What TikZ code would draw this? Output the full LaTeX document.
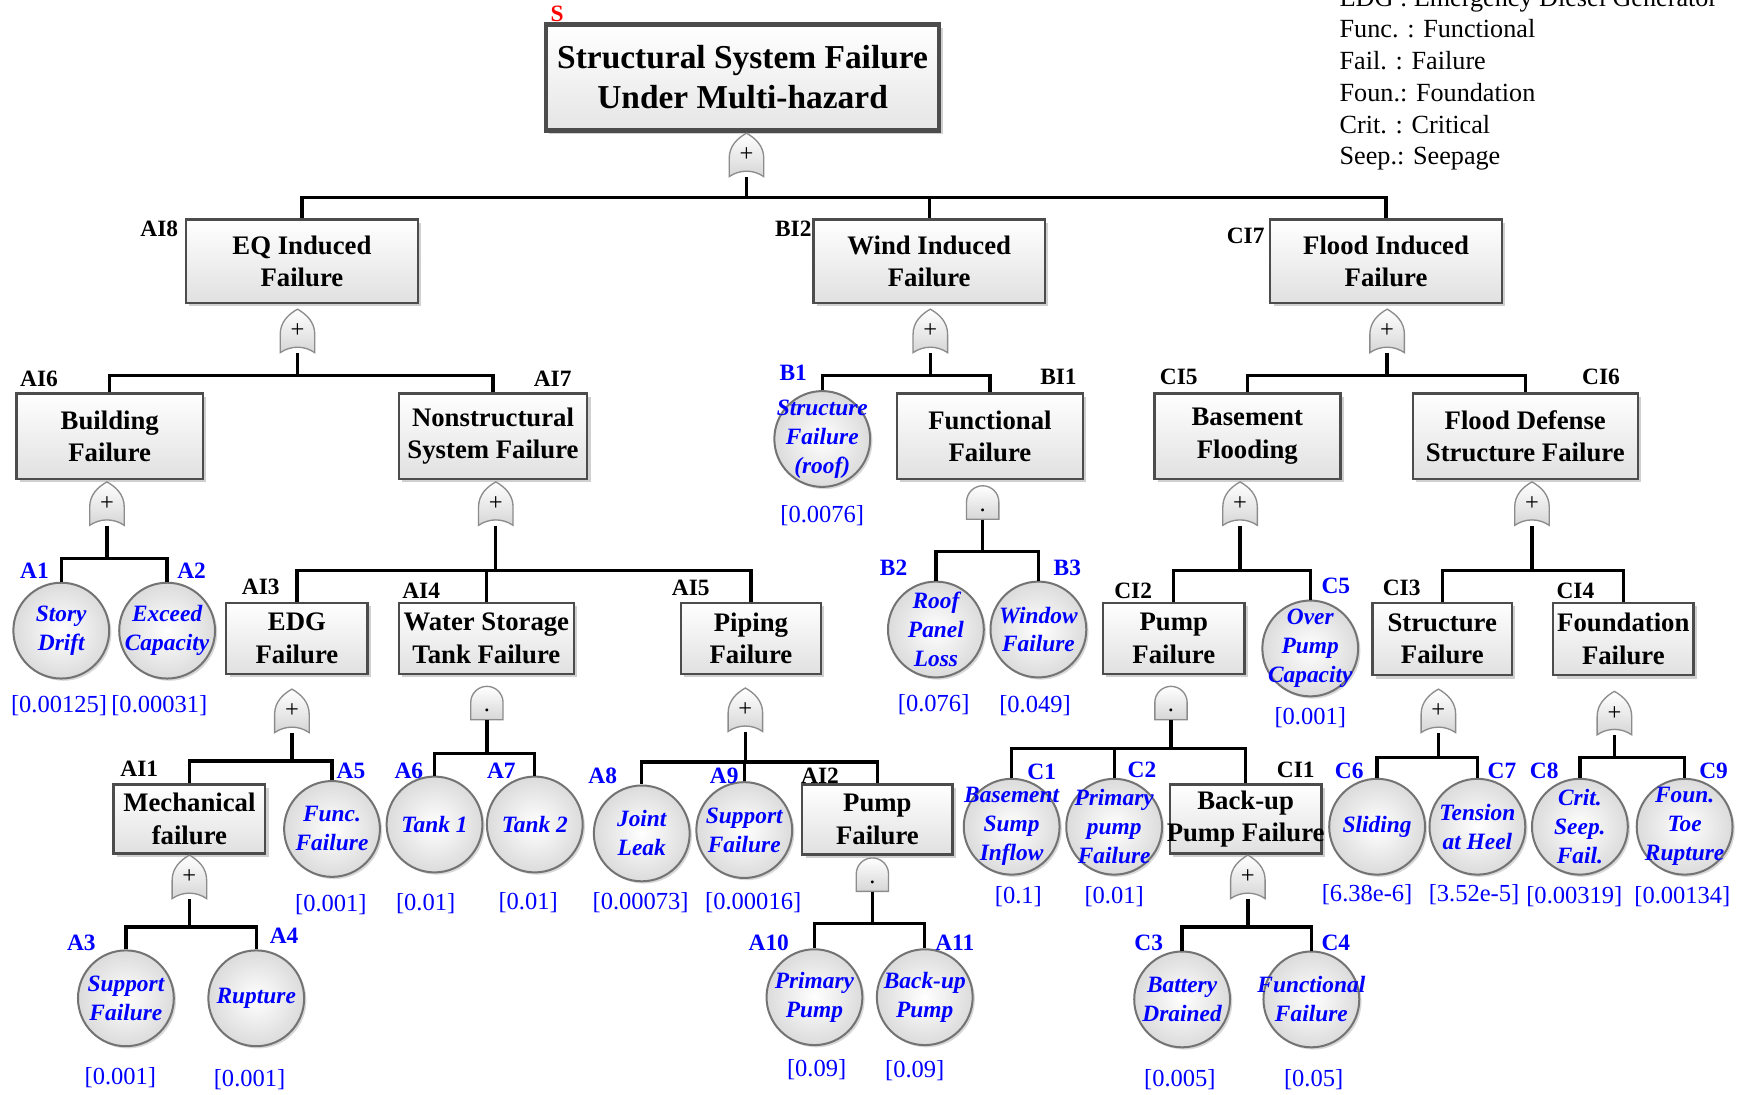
\documentclass[tikz,border=0pt]{standalone}
\usepackage{fontspec}
\setmainfont{Liberation Serif}
\usetikzlibrary{shadows}

\definecolor{evblue}{RGB}{0,0,255}
\definecolor{evred}{RGB}{255,0,0}

% fonts
\newcommand\titlefont{\fontsize{15}{18}\selectfont\bfseries}
\newcommand\boxfont{\fontsize{12}{14.5}\selectfont\bfseries}
\newcommand\evfont{\fontsize{10.5}{13}\selectfont\bfseries\itshape}
\newcommand\labfont{\fontsize{10.5}{12}\selectfont\bfseries}
\newcommand\probfont{\fontsize{11}{13}\selectfont}
\newcommand\legfont{\fontsize{11.75}{14.25}\selectfont}

\tikzset{
  conn/.style={line width=1.5pt, black},
  shade box/.style={drop shadow={shadow xshift=1.5pt, shadow yshift=-1.5pt, opacity=0.3, fill=black!60}},
  topbox/.style={rectangle, draw=black!70, line width=2pt, top color=white, bottom color=black!10,
    inner sep=0pt, inner xsep=-30pt, align=center, font=\titlefont, shade box},
  evbox/.style={rectangle, draw=black!70, line width=1.1pt, top color=white, bottom color=black!12,
    inner sep=0pt, inner xsep=-30pt, align=center, font=\boxfont, shade box},
  event/.style={circle, draw=black!55, line width=0.9pt, inner color=white, outer color=black!14,
    minimum size=43pt, inner sep=-20pt, align=center, font=\evfont, text=evblue,
    drop shadow={shadow xshift=1pt, shadow yshift=-1pt, opacity=0.25, fill=black!60}},
  ilab/.style={inner sep=0pt, font=\labfont, text=black},
  elab/.style={inner sep=0pt, font=\labfont, text=evblue},
  prob/.style={inner sep=0pt, font=\probfont, text=evblue},
  legline/.style={inner sep=0pt, font=\legfont, anchor=base west},
  gatebody/.style={draw=black!45, line width=0.6pt, top color=white, bottom color=black!16},
  ornode/.style={inner sep=0pt, minimum width=15.5pt, minimum height=19.5pt, font=\fontsize{11}{11}\selectfont},
  andnode/.style={inner sep=0pt, minimum width=14.5pt, minimum height=15pt, text height=8pt, text depth=0pt,
    font=\fontsize{11}{11}\selectfont},
}

% OR gate: pointed arch with concave base
\newcommand\orgate[2]{%
  \begin{scope}[shift={(#2)}]
    \path[gatebody] (-15.5,19.5) -- (-15.5,3)
      .. controls (-15.5,-8) and (-8,-15) .. (0,-19.5)
      .. controls (8,-15) and (15.5,-8) .. (15.5,3)
      -- (15.5,19.5) .. controls (6,13) and (-6,13) .. (-15.5,19.5) -- cycle;
  \end{scope}
  \node[ornode] (#1) at (#2) {+};}

% AND gate: round top, flat base
\newcommand\andgate[2]{%
  \begin{scope}[shift={(#2)}]
    \path[gatebody] (-14.5,15) -- (-14.5,-0.5)
      .. controls (-14.5,-8.5) and (-8,-15) .. (0,-15)
      .. controls (8,-15) and (14.5,-8.5) .. (14.5,-0.5)
      -- (14.5,15) -- cycle;
  \end{scope}
  \node[andnode] (#1) at (#2) {.};}

% gate output split into a bar at height #2 feeding the listed inputs
\newcommand\branch[3]{%
  \foreach \kid in {#3} {\draw[conn] (#1.south) |- (\kid.north |- 0,#2) -- (\kid.north);}}

\begin{document}
\begin{tikzpicture}[x=0.5pt,y=-0.5pt]
\fill[white] (0,0) rectangle (1568,982);
\useasboundingbox (0,0) rectangle (1568,982);

% legend
\node[legline] (leg1) at (1202,5.5) {EDG : Emergency Diesel Generator};
\node[legline] (leg2) at (1202,34) {Func. : Functional};
\node[legline] (leg3) at (1202,62.5) {Fail. : Failure};
\node[legline] (leg4) at (1202,91) {Foun.: Foundation};
\node[legline] (leg5) at (1202,119.5) {Crit. : Critical};
\node[legline] (leg6) at (1202,148) {Seep.: Seepage};

% top event
\node[topbox, minimum width=176.5pt, minimum height=47.5pt] (S) at (666.5,69.5) {Structural System Failure\\Under Multi-hazard};
\node[ilab, text=evred] (Slab) at (500,12) {S};
\orgate{g0}{670,139}

% hazard level
\node[evbox, minimum width=104pt, minimum height=37.5pt] (AI8) at (271,234.5) {EQ Induced\\Failure};
\node[evbox, minimum width=104pt, minimum height=37.5pt] (BI2) at (834,234.5) {Wind Induced\\Failure};
\node[evbox, minimum width=104pt, minimum height=37.5pt] (CI7) at (1244,234.5) {Flood Induced\\Failure};
\node[ilab] (lAI8) at (143,205) {AI8};
\node[ilab] (lBI2) at (712,205) {BI2};
\node[ilab] (lCI7) at (1118,212) {CI7};
\orgate{gAI8}{267,297}
\orgate{gBI2}{835,297}
\orgate{gCI7}{1245,297}

% third level
\node[evbox, minimum width=83.5pt, minimum height=38.5pt] (AI6) at (98.5,391.5) {Building\\Failure};
\node[evbox, minimum width=84.5pt, minimum height=38.5pt] (AI7) at (442.5,391.5) {Nonstructural\\System Failure};
\node[event] (B1) at (738,394) {Structure\\Failure\\(roof)};
\node[evbox, minimum width=83.5pt, minimum height=38.5pt] (BI1) at (888.5,391.5) {Functional\\Failure};
\node[evbox, minimum width=83.5pt, minimum height=38.5pt] (CI5) at (1119.5,391.5) {Basement\\Flooding};
\node[evbox, minimum width=101pt, minimum height=38.5pt] (CI6) at (1369,391.5) {Flood Defense\\Structure Failure};
\node[ilab] (lAI6) at (35,340) {AI6};
\node[ilab] (lAI7) at (496,340) {AI7};
\node[elab] (lB1) at (712,335) {B1};
\node[ilab] (lBI1) at (950,338) {BI1};
\node[ilab] (lCI5) at (1058,338) {CI5};
\node[ilab] (lCI6) at (1437,338) {CI6};
\node[prob] (pB1) at (738,463) {[0.0076]};
\orgate{gAI6}{96,452}
\orgate{gAI7}{445,452}
\andgate{gBI1}{882,451}
\orgate{gCI5}{1113,452}
\orgate{gCI6}{1375,452}

% fourth level
\node[event] (A1) at (55,566) {Story\\Drift};
\node[event] (A2) at (150,566) {Exceed\\Capacity};
\node[elab] (lA1) at (31,512) {A1};
\node[elab] (lA2) at (172,512) {A2};
\node[prob] (pA1) at (53,633) {[0.00125]};
\node[prob] (pA2) at (143,633) {[0.00031]};

\node[evbox, minimum width=63.5pt, minimum height=32pt] (AI3) at (266.5,573) {EDG\\Failure};
\node[evbox, minimum width=78.5pt, minimum height=32pt] (AI4) at (436.5,573) {Water Storage\\Tank Failure};
\node[evbox, minimum width=63pt, minimum height=32pt] (AI5) at (674,573) {Piping\\Failure};
\node[ilab] (lAI3) at (234,527) {AI3};
\node[ilab] (lAI4) at (378,530) {AI4};
\node[ilab] (lAI5) at (620,528) {AI5};

\node[event] (B2) at (840,565) {Roof\\Panel\\Loss};
\node[event] (B3) at (932,565) {Window\\Failure};
\node[elab] (lB2) at (802,510) {B2};
\node[elab] (lB3) at (958,510) {B3};
\node[prob] (pB2) at (838,632) {[0.076]};
\node[prob] (pB3) at (929,633) {[0.049]};

\node[evbox, minimum width=63.5pt, minimum height=32pt] (CI2) at (1053.5,573) {Pump\\Failure};
\node[event] (C5) at (1176,582) {Over\\Pump\\Capacity};
\node[ilab] (lCI2) at (1017,530) {CI2};
\node[elab] (lC5) at (1199,526) {C5};
\node[prob] (pC5) at (1176,644) {[0.001]};

\node[evbox, minimum width=62.5pt, minimum height=32.5pt] (CI3) at (1294.5,573.5) {Structure\\Failure};
\node[evbox, minimum width=63pt, minimum height=32.5pt] (CI4) at (1457,573.5) {Foundation\\Failure};
\node[ilab] (lCI3) at (1258,528) {CI3};
\node[ilab] (lCI4) at (1414,530) {CI4};

\orgate{gAI3}{262,638}
\andgate{gAI4}{437,631}
\orgate{gAI5}{669,637}
\andgate{gCI2}{1051,631}
\orgate{gCI3}{1291,638}
\orgate{gCI4}{1449,640}

% fifth level
\node[evbox, minimum width=68pt, minimum height=31pt] (AI1) at (170,735) {Mechanical\\failure};
\node[ilab] (lAI1) at (125,690) {AI1};
\node[event] (A5) at (298,744) {Func.\\Failure};
\node[elab] (lA5) at (315,692) {A5};
\node[prob] (pA5) at (297,812) {[0.001]};

\node[event] (A6) at (390,740) {Tank 1};
\node[event] (A7) at (480,740) {Tank 2};
\node[elab] (lA6) at (367,692) {A6};
\node[elab] (lA7) at (450,692) {A7};
\node[prob] (pA6) at (382,811) {[0.01]};
\node[prob] (pA7) at (474,810) {[0.01]};

\node[event] (A8) at (576,748) {Joint\\Leak};
\node[event] (A9) at (668,745) {Support\\Failure};
\node[elab] (lA8) at (541,696) {A8};
\node[elab] (lA9) at (650,696) {A9};
\node[prob] (pA8) at (575,810) {[0.00073]};
\node[prob] (pA9) at (676,810) {[0.00016]};
\node[evbox, minimum width=67.5pt, minimum height=31.5pt] (AI2) at (787.5,735.5) {Pump\\Failure};
\node[ilab] (lAI2) at (736,696) {AI2};

\node[event] (C1) at (908,742) {Basement\\Sump\\Inflow};
\node[event] (C2) at (1000,742) {Primary\\pump\\Failure};
\node[elab] (lC1) at (935,693) {C1};
\node[elab] (lC2) at (1025,691) {C2};
\node[prob] (pC1) at (914,805) {[0.1]};
\node[prob] (pC2) at (1000,805) {[0.01]};
\node[evbox, minimum width=68pt, minimum height=31pt] (CI1) at (1118,735) {Back-up\\Pump Failure};
\node[ilab] (lCI1) at (1163,691) {CI1};

\node[event] (C6) at (1236,742) {Sliding};
\node[event] (C7) at (1326,742) {Tension\\at Heel};
\node[event] (C8) at (1418,742) {Crit.\\Seep.\\Fail.};
\node[event] (C9) at (1512,742) {Foun.\\Toe\\Rupture};
\node[elab] (lC6) at (1211,692) {C6};
\node[elab] (lC7) at (1348,692) {C7};
\node[elab] (lC8) at (1386,692) {C8};
\node[elab] (lC9) at (1538,692) {C9};
\node[prob] (pC6) at (1227,803) {[6.38e-6]};
\node[prob] (pC7) at (1323,803) {[3.52e-5]};
\node[prob] (pC8) at (1413,805) {[0.00319]};
\node[prob] (pC9) at (1510,805) {[0.00134]};

\orgate{gAI1}{170,787}
\andgate{gAI2}{783,785}
\orgate{gCI1}{1120,787}

% sixth level
\node[event] (A3) at (113,896) {Support\\Failure};
\node[event] (A4) at (230,896) {Rupture};
\node[elab] (lA3) at (73,846) {A3};
\node[elab] (lA4) at (255,840) {A4};
\node[prob] (pA3) at (108,967) {[0.001]};
\node[prob] (pA4) at (224,969) {[0.001]};

\node[event] (A10) at (731,895) {Primary\\Pump};
\node[event] (A11) at (830,895) {Back-up\\Pump};
\node[elab] (lA10) at (690,846) {A10};
\node[elab] (lA11) at (857,846) {A11};
\node[prob] (pA10) at (733,960) {[0.09]};
\node[prob] (pA11) at (821,961) {[0.09]};

\node[event] (C3) at (1061,897) {Battery\\Drained};
\node[event] (C4) at (1177,897) {Functional\\Failure};
\node[elab] (lC3) at (1031,846) {C3};
\node[elab] (lC4) at (1199,846) {C4};
\node[prob] (pC3) at (1059,969) {[0.005]};
\node[prob] (pC4) at (1179,969) {[0.05]};

% connectors
\branch{g0}{177}{AI8,BI2,CI7}
\branch{gAI8}{337}{AI6,AI7}
\branch{gBI2}{337}{B1,BI1}
\branch{gCI7}{337}{CI5,CI6}
\branch{gAI6}{501}{A1,A2}
\branch{gAI7}{512}{AI3,AI4,AI5}
\branch{gBI1}{495}{B2,B3}
\branch{gCI5}{512}{CI2,C5}
\branch{gCI6}{512}{CI3,CI4}
\branch{gAI3}{683}{AI1,A5}
\branch{gAI4}{676}{A6,A7}
\branch{gAI5}{684}{A8,A9,AI2}
\branch{gCI2}{672}{C1,C2,CI1}
\branch{gCI3}{680}{C6,C7}
\branch{gCI4}{680}{C8,C9}
\branch{gAI1}{832}{A3,A4}
\branch{gAI2}{829}{A10,A11}
\branch{gCI1}{832}{C3,C4}
\end{tikzpicture}
\end{document}
